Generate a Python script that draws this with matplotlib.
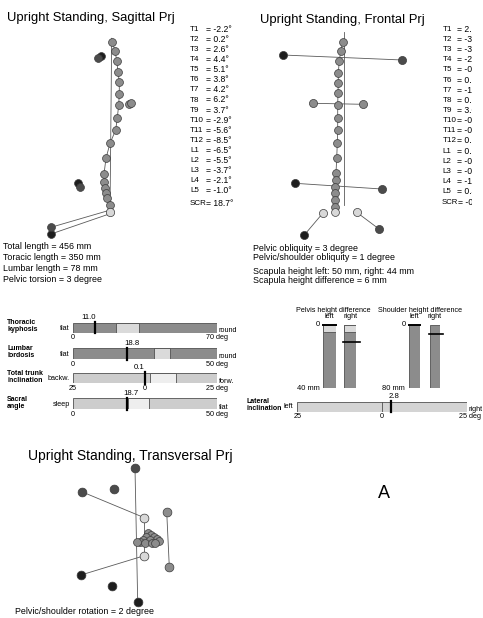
import matplotlib
matplotlib.use('Agg')
import matplotlib.pyplot as plt

plt.rcParams['font.family'] = ['Liberation Sans', 'DejaVu Sans']

# ---------------- data ----------------
levels = ['T1', 'T2', 'T3', 'T4', 'T5', 'T6', 'T7', 'T8', 'T9', 'T10', 'T11', 'T12',
          'L1', 'L2', 'L3', 'L4', 'L5']

# sagittal projection (offset from plumb line top, px, y downwards)
sag_angles = [-2.2, 0.2, 2.6, 4.4, 5.1, 3.8, 4.2, 6.2, 3.7, -2.9, -5.6, -8.5,
              -6.5, -5.5, -3.7, -2.1, -1.0]
sag_scr = 18.7
sag_vert_dx = [0.6, 3.3, 5.0, 6.3, 7.6, 7.6, 7.0, 5.6, 4.0, -1.7, -5.7, -7.7,
               -7.7, -7.0, -5.7, -4.4, -1.7]
sag_vert_dy = [3.4, 12.4, 22.4, 33.4, 44.0, 55.7, 66.7, 79.4, 91.7, 105.0, 120.0, 135.7,
               143.4, 150.0, 155.0, 160.0, 166.7]
sag_sacrum = (-1.7, 173.4)
sag_left_dx = [-10.7, -34.0, -60.7]
sag_left_dy = [17.4, 144.4, 195.7]
sag_right_dx = [-13.4, -31.7, -60.7]
sag_right_dy = [20.0, 149.0, 189.0]
sag_scap_dx = [17.3, 19.3]
sag_scap_dy = [65.4, 64.4]

# frontal projection
fro_angles = [2.1, -3.0, -3.2, -2.4, -0.6, 0.5, -1.3, 0.8, 3.0, -0.4, -0.7, 0.6,
              0.9, -0.5, -0.3, -1.2, 0.4]
fro_scr = -0.5
fro_vert_dx = [-1.3, -3.3, -4.7, -5.7, -5.7, -6.0, -6.3, -6.3, -6.3, -6.7, -7.3, -8.0,
               -8.3, -8.7, -9.0, -9.0, -9.0]
fro_vert_dy = [10.0, 19.3, 29.3, 41.0, 51.0, 61.6, 73.3, 86.0, 98.3, 111.6, 126.6, 141.6,
               148.3, 155.0, 161.6, 168.3, 175.0]
fro_sacrum = (-9.0, 180.6)
fro_left_dx = [-61.3, -49.0, -39.7]     # shoulder, pelvis, foot
fro_left_dy = [23.3, 151.6, 203.3]
fro_right_dx = [58.3, 37.7, 35.0]
fro_right_dy = [28.3, 157.3, 197.3]
fro_scap_dx = [-30.7, 18.7]
fro_scap_dy = [71.6, 72.6]
fro_hip_dx = [-21.3, 12.7]
fro_hip_dy = [181.6, 180.6]

# transversal projection (offset from vertebra cluster centre)
tra_dark_dx = [-13.0, -66.3, -33.7]
tra_dark_dy = [-70.7, -47.3, -50.0]
tra_black_dx = [-10.3, -67.0, -36.3]
tra_black_dy = [62.7, 36.0, 47.0]
tra_gray_dx = [18.7, 21.3]
tra_gray_dy = [-27.3, 27.7]
tra_light_dx = [-3.7, -3.7]
tra_light_dy = [-21.3, 16.7]
tra_clu_dx = [0, 3, -2, 6, 9, 11, -5, 2, -8, -3, 4, -11, 7]
tra_clu_dy = [-6, -4, -2, -2, 0, 2, 1, 1, 3, 4, 4, 3, 4]

sag_info = ['Total length = 456 mm', 'Toracic length = 350 mm',
            'Lumbar length = 78 mm', 'Pelvic torsion = 3 degree']
fro_info = ['Pelvic obliquity = 3 degree', 'Pelvic/shoulder obliquity = 1 degree',
            'Scapula height left: 50 mm, right: 44 mm', 'Scapula height difference = 6 mm']

bar_names = ['Thoracic\nkyphosis', 'Lumbar\nlordosis', 'Total trunk\ninclination', 'Sacral\nangle']
bar_values = [11.0, 18.8, 0.1, 18.7]
bar_min = [0, 0, -25, 0]
bar_max = [70, 50, 25, 50]
bar_norm_lo = [21, 28, 1.7, 19]
bar_norm_hi = [32, 33.6, 10.7, 26.5]
bar_left_words = ['flat', 'flat', 'backw.', 'sleep']
bar_right_words = ['round', 'round', 'forw.', 'flat']

height_titles = ['Pelvis height difference', 'Shoulder height difference']
height_max = [40, 80]
pelvis_diff = [0, 11]      # left, right
shoulder_diff = [0, 11]
pelvis_norm = 4.6

lat_value = 2.8
lat_range = (-25, 25)

# ---------------- drawing ----------------
W, H = 483, 618
fig = plt.figure(figsize=(W / 100, H / 100), dpi=100)
fig.patch.set_facecolor('white')

ov = fig.add_axes([0, 0, 1, 1])
ov.set_xlim(0, W)
ov.set_ylim(H, 0)
ov.axis('off')

BLACK, DARK, GRAY, LIGHT = '#1e1e1e', '#4b4b4b', '#8c8c8c', '#d8d8d8'
LINE = '#5a5a5a'


def box_axes(x0, y0, x1, y1):
    ax = fig.add_axes([x0 / W, 1 - y1 / H, (x1 - x0) / W, (y1 - y0) / H])
    ax.axis('off')
    return ax


def panel(ox, oy, xlo, xhi, ylo, yhi):
    ax = box_axes(ox + xlo, oy + ylo, ox + xhi, oy + yhi)
    ax.set_xlim(xlo, xhi)
    ax.set_ylim(yhi, ylo)
    return ax


def dots(ax, x, y, c, s=30, z=3):
    ax.scatter(x, y, s=s, c=c, edgecolors='#3a3a3a', linewidths=0.5, zorder=z, clip_on=False)


def seg(ax, p, q, lw=0.6):
    ax.plot([p[0], q[0]], [p[1], q[1]], color=LINE, lw=lw, zorder=2, clip_on=False)


# sagittal
ax = panel(111.7, 38.3, -75, 30, -10, 205)
seg(ax, (0, 0), sag_sacrum)
ax.plot(sag_vert_dx + [sag_sacrum[0]], sag_vert_dy + [sag_sacrum[1]], color=LINE, lw=0.6, zorder=2)
seg(ax, (sag_right_dx[2], sag_right_dy[2]), (sag_sacrum[0] - 2, sag_sacrum[1] - 1))
seg(ax, (sag_left_dx[2], sag_left_dy[2]), (sag_sacrum[0] + 1.5, sag_sacrum[1] + 1.5))
dots(ax, sag_vert_dx, sag_vert_dy, GRAY, s=32)
dots(ax, [sag_sacrum[0]], [sag_sacrum[1]], LIGHT, s=36)
dots(ax, sag_scap_dx, sag_scap_dy, GRAY, s=32)
dots(ax, sag_left_dx, sag_left_dy, BLACK, s=32)
dots(ax, sag_right_dx, sag_right_dy, DARK, s=32)

# frontal
ax = panel(344, 31.7, -70, 70, -10, 210)
seg(ax, (0, 0), (0, 173))
ax.plot(fro_vert_dx + [fro_sacrum[0]], fro_vert_dy + [fro_sacrum[1]], color=LINE, lw=0.6, zorder=2)
seg(ax, (fro_left_dx[0], fro_left_dy[0]), (fro_right_dx[0], fro_right_dy[0]))
seg(ax, (fro_scap_dx[0], fro_scap_dy[0]), (fro_scap_dx[1], fro_scap_dy[1]))
seg(ax, (fro_left_dx[1], fro_left_dy[1]), (fro_right_dx[1], fro_right_dy[1]))
seg(ax, (fro_hip_dx[0], fro_hip_dy[0]), (fro_left_dx[2], fro_left_dy[2]))
seg(ax, (fro_hip_dx[1], fro_hip_dy[1]), (fro_right_dx[2], fro_right_dy[2]))
dots(ax, fro_vert_dx, fro_vert_dy, GRAY, s=32)
dots(ax, [fro_sacrum[0]], [fro_sacrum[1]], LIGHT, s=32)
dots(ax, fro_scap_dx, fro_scap_dy, GRAY, s=34)
dots(ax, fro_hip_dx, fro_hip_dy, LIGHT, s=34)
dots(ax, fro_left_dx, fro_left_dy, BLACK, s=34)
dots(ax, fro_right_dx, fro_right_dy, DARK, s=34)

# transversal
ax = panel(148, 539, -75, 30, -80, 70)
seg(ax, (tra_dark_dx[0], tra_dark_dy[0]), (tra_black_dx[0], tra_black_dy[0]))
seg(ax, (tra_dark_dx[1], tra_dark_dy[1]), (tra_light_dx[0], tra_light_dy[0]))
seg(ax, (tra_light_dx[1], tra_light_dy[1]), (tra_black_dx[1], tra_black_dy[1]))
seg(ax, (tra_light_dx[0], tra_light_dy[0]), (tra_light_dx[1], tra_light_dy[1]))
seg(ax, (tra_gray_dx[0], tra_gray_dy[0]), (tra_gray_dx[1], tra_gray_dy[1]))
dots(ax, tra_clu_dx, tra_clu_dy, GRAY, s=32)
dots(ax, tra_light_dx, tra_light_dy, LIGHT, s=40)
dots(ax, tra_gray_dx, tra_gray_dy, GRAY, s=40)
dots(ax, tra_dark_dx, tra_dark_dy, DARK, s=40)
dots(ax, tra_black_dx, tra_black_dy, BLACK, s=40)

# titles and texts
ov.text(7, 21, 'Upright Standing, Sagittal Prj', fontsize=9.4, va='baseline')
ov.text(260, 23.5, 'Upright Standing, Frontal Prj', fontsize=9.4, va='baseline')
ov.text(28, 460, 'Upright Standing, Transversal Prj', fontsize=10, va='baseline')
ov.text(384, 493, 'A', fontsize=13, ha='center', va='center')

for i, (lv, a) in enumerate(zip(levels, sag_angles)):
    y = 29.3 + i * 10.1
    ov.text(190, y, lv, fontsize=5.8, va='center')
    ov.text(206.5, y, f'= {a:.1f}°', fontsize=6.2, va='center')
ov.text(190, 203.7, 'SCR', fontsize=5.8, va='center')
ov.text(206.5, 203.7, f'= {sag_scr:.1f}°', fontsize=6.2, va='center')

# frontal values are cut off at the right edge of the scan
fv = box_axes(438, 20, 472, 212)
fv.set_xlim(438, 472)
fv.set_ylim(212, 20)
for i, (lv, a) in enumerate(zip(levels, fro_angles)):
    y = 29.3 + i * 10.15
    fv.text(442.7, y, lv, fontsize=5.8, va='center', clip_on=True)
    fv.text(457, y, f'= {a:.1f}°', fontsize=6.2, va='center', clip_on=True)
fv.text(441.5, 202.7, 'SCR', fontsize=5.6, va='center', clip_on=True)
fv.text(458, 202.7, f'= {fro_scr:.1f}°', fontsize=6.2, va='center', clip_on=True)

for i, s in enumerate(sag_info):
    ov.text(3, 246.7 + i * 11, s, fontsize=6.4, va='center')
for s, y in zip(fro_info, [248.3, 257.5, 271.7, 280.5]):
    ov.text(252.7, y, s, fontsize=6.4, va='center')
ov.text(15, 611.7, 'Pelvic/shoulder rotation = 2 degree', fontsize=6.4, va='center')

# horizontal range bars
bar_rows = [(322.7, 332.7), (348.3, 359), (372.7, 383.3), (398.3, 409.3)]
name_y = [326, 351.7, 376.7, 403.3]
val_dx = [-7, 5.4, -6, 4.7]
for i in range(4):
    y0, y1 = bar_rows[i]
    ax = box_axes(72.7, y0, 217.3, y1)
    vmin, vmax = bar_min[i], bar_max[i]
    ax.set_xlim(vmin, vmax)
    ax.set_ylim(-0.5, 0.5)
    base, light = ('#8c8c8c', '#dadada') if i < 2 else ('#cdcdcd', '#eeeeee')
    ax.barh(0, vmax - vmin, left=vmin, height=1, color=base, edgecolor='#505050', lw=0.6)
    ax.barh(0, bar_norm_hi[i] - bar_norm_lo[i], left=bar_norm_lo[i], height=1,
            color=light, edgecolor='#505050', lw=0.6)
    v = bar_values[i]
    ax.plot([v, v], [-0.55, 0.55], color='black', lw=1.6, clip_on=False)
    ax.annotate(f'{v:.1f}', xy=(v, 0.5), xytext=(val_dx[i], 1.5), textcoords='offset pixels',
                ha='center', va='bottom', fontsize=5.6)
    yc = (y0 + y1) / 2
    ov.text(7, name_y[i], bar_names[i], fontsize=5.0, fontweight='bold', va='center', linespacing=1.05)
    ov.text(70, yc + 1, bar_left_words[i], fontsize=5.2, ha='right', va='center')
    ov.text(218.5, y1 - 2, bar_right_words[i], fontsize=5.2, ha='left', va='center')
    ov.text(72.7, y1 + 1.5, f'{abs(vmin)}', fontsize=5.2, ha='center', va='top')
    ov.text(217, y1 + 1.5, f'{abs(vmax)} deg', fontsize=5.2, ha='center', va='top')
    if vmin < 0:
        ov.text(144.5, y1 + 1.5, '0', fontsize=5.2, ha='center', va='top')

# vertical height difference bars
vb_x = [(323.3, 336), (344.3, 356), (409.3, 420), (430, 440)]
vb_vals = pelvis_diff + shoulder_diff
vb_max = [height_max[0]] * 2 + [height_max[1]] * 2
for j in range(4):
    x0, x1 = vb_x[j]
    ax = box_axes(x0, 325, x1, 388.3)
    ax.set_xlim(0, 1)
    ax.set_ylim(vb_max[j], 0)
    ax.bar(0.5, vb_max[j], width=1, bottom=0, color='#8c8c8c', edgecolor='#505050', lw=0.6)
    if j < 2:
        ax.bar(0.5, pelvis_norm, width=1, bottom=0, color='#dadada', edgecolor='#505050', lw=0.6)
    v = vb_vals[j]
    if j % 2 == 0:
        ax.plot([0, 1], [v, v], color='black', lw=1.4, clip_on=False)
        ax.annotate(f'{v}', xy=(0, v), xytext=(-3, 0), textcoords='offset pixels',
                    ha='right', va='center', fontsize=5.4)
    else:
        ax.plot([-0.15, 1.3], [v, v], color='black', lw=1.2, clip_on=False)
        ax.annotate(f'{v}', xy=(1.3, v), xytext=(1, 0), textcoords='offset pixels',
                    ha='left', va='center', fontsize=5.4)

ov.text(333.8, 310, height_titles[0], fontsize=5.2, ha='center', va='center')
ov.text(420, 310, height_titles[1], fontsize=5.2, ha='center', va='center')
for xc, s in [(329.7, 'left'), (350.2, 'right'), (414.7, 'left'), (435, 'right')]:
    ov.text(xc, 316.7, s, fontsize=5.2, ha='center', va='center')
ov.text(320, 388.3, f'{height_max[0]} mm', fontsize=5.4, ha='right', va='center')
ov.text(405, 388.3, f'{height_max[1]} mm', fontsize=5.4, ha='right', va='center')

# lateral inclination bar
ax = box_axes(296.7, 401.7, 466.7, 411.7)
ax.set_xlim(*lat_range)
ax.set_ylim(-0.5, 0.5)
ax.barh(0, lat_range[1] - lat_range[0], left=lat_range[0], height=1,
        color='#d4d4d4', edgecolor='#505050', lw=0.6)
ax.plot([0, 0], [-0.5, 0.5], color='#505050', lw=0.6)
ax.plot([lat_value, lat_value], [-0.55, 0.55], color='black', lw=1.6, clip_on=False)
ax.annotate(f'{lat_value}', xy=(lat_value, 0.5), xytext=(3, 1.5), textcoords='offset pixels',
            ha='center', va='bottom', fontsize=5.6)
ov.text(246.7, 405, 'Lateral\ninclination', fontsize=5.0, fontweight='bold', va='center', linespacing=1.05)
ov.text(293.3, 406.7, 'left', fontsize=5.2, ha='right', va='center')
ov.text(468.3, 409.5, 'right', fontsize=5.2, ha='left', va='center')
ov.text(298, 413.5, f'{abs(lat_range[0])}', fontsize=5.2, ha='center', va='top')
ov.text(381.7, 413.5, '0', fontsize=5.2, ha='center', va='top')
ov.text(481, 413.5, f'{lat_range[1]} deg', fontsize=5.2, ha='right', va='top')

fig.savefig('out.png', dpi=100, facecolor='white')
